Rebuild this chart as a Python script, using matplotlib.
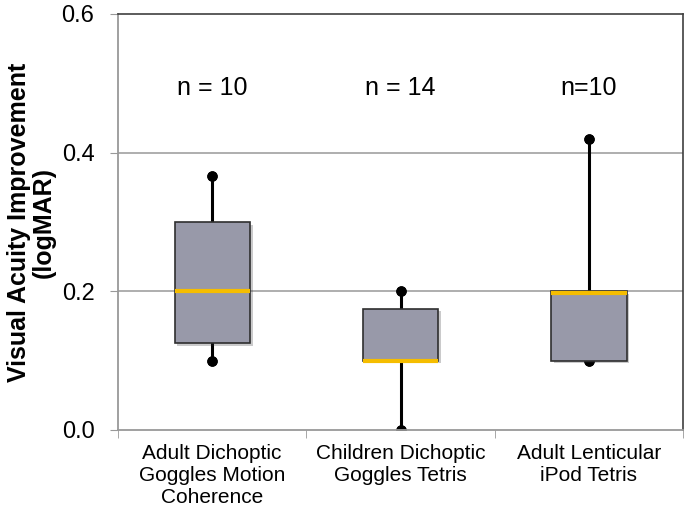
import matplotlib
matplotlib.use("Agg")
import matplotlib.pyplot as plt
import matplotlib.patheffects as pe

plt.rcParams['font.family'] = ['Liberation Sans', 'DejaVu Sans']

categories = ["Adult Dichoptic\nGoggles Motion\nCoherence",
              "Children Dichoptic\nGoggles Tetris",
              "Adult Lenticular\niPod Tetris"]
n_labels = ["n = 10", "n = 14", "n=10"]
whislo = [0.10, 0.0, 0.10]
q1 = [0.125, 0.10, 0.10]
med = [0.20, 0.10, 0.197]
q3 = [0.30, 0.175, 0.20]
whishi = [0.367, 0.20, 0.42]

stats = []
for i in range(len(categories)):
    stats.append(dict(whislo=whislo[i], q1=q1[i], med=med[i], q3=q3[i],
                      whishi=whishi[i], fliers=[]))

fig = plt.figure(figsize=(6.89, 5.2), dpi=100)
ax = fig.add_axes([118/689, 90/520, 565/689, 416/520])

positions = [1, 2, 3]
bp = ax.bxp(stats, positions=positions, widths=0.4, patch_artist=True,
            showfliers=False, capwidths=0,
            boxprops=dict(facecolor='#9899a9', edgecolor='#2f2f2f', linewidth=1.2),
            medianprops=dict(color='#f5bd00', linewidth=3, solid_capstyle='butt'),
            whiskerprops=dict(color='black', linewidth=2.2),
            capprops=dict(color='black', marker='o', markersize=6.5, linewidth=0))
for b in bp['boxes']:
    b.set_path_effects([pe.SimplePatchShadow(offset=(2, -2), alpha=0.25), pe.Normal()])
    b.set_zorder(3)
for m in bp['medians']:
    m.set_zorder(4)

for p, t in zip(positions, n_labels):
    ax.text(p, 0.493, t, ha='center', va='center', fontsize=18)

ax.set_xlim(0.5, 3.5)
ax.set_ylim(0, 0.6)
ax.set_yticks([0.0, 0.2, 0.4, 0.6])
ax.set_yticklabels(["0.0", "0.2", "0.4", "0.6"], fontsize=17)
ax.set_xticks(positions)
ax.set_xticklabels(categories, fontsize=15, linespacing=1.2)
ax.set_xticks([0.5, 1.5, 2.5, 3.5], minor=True)
ax.tick_params(axis='x', which='major', length=0, pad=10)
ax.tick_params(axis='x', which='minor', length=6, color='#999999', direction='out')
ax.tick_params(axis='y', length=6, color='#999999', direction='out', pad=11)
for y in [0.2, 0.4]:
    ax.axhline(y, color='#a8a8a8', linewidth=1.3, zorder=1)

ax.spines['left'].set_color('#999999')
ax.spines['bottom'].set_color('#999999')
ax.spines['left'].set_linewidth(1.3)
ax.spines['bottom'].set_linewidth(1.3)
ax.spines['top'].set_color('#404040')
ax.spines['right'].set_color('#404040')
ax.spines['top'].set_linewidth(1.2)
ax.spines['right'].set_linewidth(1.2)

ax.set_ylabel("Visual Acuity Improvement\n(logMAR)", fontsize=18, fontweight='bold',
              linespacing=1.05, labelpad=4)

fig.savefig("out.png", dpi=100)
